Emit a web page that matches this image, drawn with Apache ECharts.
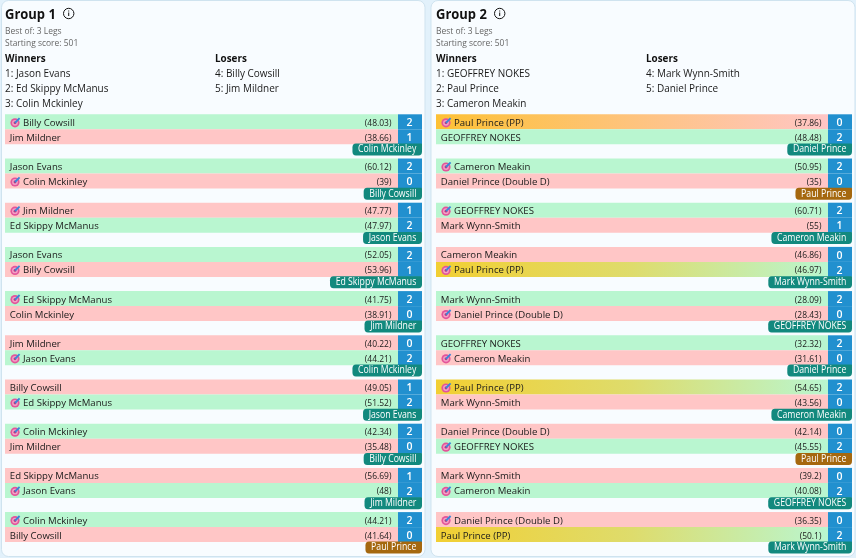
<!DOCTYPE html>
<html><head><meta charset="utf-8">
<style>html,body{margin:0;padding:0;background:#e2f1fb}#c{width:856px;height:558px}</style>
<script src="https://cdn.jsdelivr.net/npm/echarts@6/dist/echarts.min.js"></script>
</head><body><div id="c"></div>
<script>
var FONT = '"Open Sans","Noto Sans",sans-serif';
var groupTitles = ['Group 1', 'Group 2'];
var bestOf = 'Best of: 3 Legs';
var startingScore = 'Starting score: 501';
var g1Winners = ['1: Jason Evans', '2: Ed Skippy McManus', '3: Colin Mckinley'];
var g1Losers = ['4: Billy Cowsill', '5: Jim Mildner'];
var g2Winners = ['1: GEOFFREY NOKES', '2: Paul Prince', '3: Cameron Meakin'];
var g2Losers = ['4: Mark Wynn-Smith', '5: Daniel Prince'];
// each match: [player A, average A, legs A, thrower-first A, player B, average B, legs B, thrower-first B, marker]
var g1Matches = [
 ['Billy Cowsill','48.03',2,1,'Jim Mildner','38.66',1,0,'Colin Mckinley'],
 ['Jason Evans','60.12',2,0,'Colin Mckinley','39',0,1,'Billy Cowsill'],
 ['Jim Mildner','47.77',1,1,'Ed Skippy McManus','47.97',2,0,'Jason Evans'],
 ['Jason Evans','52.05',2,0,'Billy Cowsill','53.96',1,1,'Ed Skippy McManus'],
 ['Ed Skippy McManus','41.75',2,1,'Colin Mckinley','38.91',0,0,'Jim Mildner'],
 ['Jim Mildner','40.22',0,0,'Jason Evans','44.21',2,1,'Colin Mckinley'],
 ['Billy Cowsill','49.05',1,0,'Ed Skippy McManus','51.52',2,1,'Jason Evans'],
 ['Colin Mckinley','42.34',2,1,'Jim Mildner','35.48',0,0,'Billy Cowsill'],
 ['Ed Skippy McManus','56.69',1,0,'Jason Evans','48',2,1,'Jim Mildner'],
 ['Colin Mckinley','44.21',2,1,'Billy Cowsill','41.64',0,0,'Paul Prince']
];
var g2Matches = [
 ['Paul Prince (PP)','37.86',0,1,'GEOFFREY NOKES','48.48',2,0,'Daniel Prince'],
 ['Cameron Meakin','50.95',2,1,'Daniel Prince (Double D)','35',0,0,'Paul Prince'],
 ['GEOFFREY NOKES','60.71',2,1,'Mark Wynn-Smith','55',1,0,'Cameron Meakin'],
 ['Cameron Meakin','46.86',0,0,'Paul Prince (PP)','46.97',2,1,'Mark Wynn-Smith'],
 ['Mark Wynn-Smith','28.09',2,0,'Daniel Prince (Double D)','28.43',0,1,'GEOFFREY NOKES'],
 ['GEOFFREY NOKES','32.32',2,0,'Cameron Meakin','31.61',0,1,'Daniel Prince'],
 ['Paul Prince (PP)','54.65',2,1,'Mark Wynn-Smith','43.56',0,0,'Cameron Meakin'],
 ['Daniel Prince (Double D)','42.14',0,0,'GEOFFREY NOKES','45.55',2,1,'Paul Prince'],
 ['Mark Wynn-Smith','39.2',0,0,'Cameron Meakin','40.08',2,1,'GEOFFREY NOKES'],
 ['Daniel Prince (Double D)','36.35',0,1,'Paul Prince (PP)','50.1',2,0,'Mark Wynn-Smith']
];

var GREEN='#b9f6d0', RED='#ffc6c6', BLUE='#2190cf', TEAL='#12897e', BROWN='#a5680f', INK='#1a1a1a';
var ROW=15/44.2;
function LG(stops){return new echarts.graphic.LinearGradient(0,0,1,0,stops.map(function(c,i){return {offset:i/(stops.length-1),color:c};}));}

function renderMatch(p, api){
  var i=api.value(0), m=(p.seriesIndex===0?g1Matches:g2Matches)[i];
  var L=api.coord([0,i])[0], R=api.coord([1,i])[0], SC=R-24;
  var kids=[];
  function txt(s,x,y,align,color,size,weight,sx){
    kids.push({type:'text',x:x,y:y,scaleX:sx||1,style:{text:s,x:0,y:0,align:align,verticalAlign:'middle',fill:color,font:(weight||'normal')+' '+size+'px '+FONT}});
  }
  [0,1].forEach(function(k){
    var o=k*4, name=m[o], avg=m[o+1], legs=m[o+2], first=m[o+3];
    var won=legs===2, base=won?GREEN:RED;
    var top=api.coord([0,i+k*ROW])[1], bot=api.coord([0,i+(k+1)*ROW])[1];
    var fill=base;
    if(name.indexOf('(PP)')>=0) fill=won?LG(['#f2cf33','#dedc6c',base]):LG(['#fdc135',base]);
    kids.push({type:'rect',shape:{x:L,y:top,width:SC-L,height:bot-top},style:{fill:fill}});
    kids.push({type:'rect',shape:{x:SC,y:top,width:R-SC,height:bot-top},style:{fill:BLUE}});
    var cy=(top+bot)/2, ty=cy+1.2;
    if(first){
      var ix=L+10, iy=cy+1;
      kids.push({type:'circle',shape:{cx:ix,cy:iy,r:4.6},style:{fill:'#e4549a'}});
      kids.push({type:'circle',shape:{cx:ix,cy:iy,r:2.9},style:{fill:'#f2a2c6'}});
      kids.push({type:'circle',shape:{cx:ix,cy:iy,r:1.4},style:{fill:'#b8377e'}});
      kids.push({type:'line',shape:{x1:ix,y1:iy,x2:ix+4.6,y2:iy-4.6},style:{stroke:'#3a86d8',lineWidth:1.9}});
    }
    txt(name,L+(first?18:4.8),ty,'left',INK,9.6);
    txt('('+avg+')',SC-6.6,ty,'right',INK,9.8,'normal',0.865);
    txt(String(legs),R-12.5,ty,'center','#fff',10.5,'600');
  });
  var by=api.coord([0,i+2*ROW])[1]+5.3;
  kids.push({type:'text',x:R,y:by,scaleX:0.87,style:{text:m[8],x:0,y:0,align:'right',verticalAlign:'middle',fill:'#fff',
    font:'normal 10px '+FONT,backgroundColor:m[8]==='Paul Prince'?BROWN:TEAL,padding:[0.5,6.5,0.5,6.5],borderRadius:[4,1,4,4],lineHeight:11}});
  return {type:'group',children:kids};
}

function header(i,x,title,win,lose){
  var els=[];
  function t(s,xx,y,font,color,sx){els.push({type:'text',silent:true,x:xx,y:y,scaleX:sx||1,style:{text:s,x:0,y:0,verticalAlign:'middle',font:font+' '+FONT,fill:color}});}
  t(title,x,15,'bold 15px','#111',0.865);
  var ic=x+63.7;
  els.push({type:'circle',silent:true,shape:{cx:ic,cy:13.5,r:5.2},style:{fill:'none',stroke:'#111',lineWidth:1}});
  els.push({type:'rect',silent:true,shape:{x:ic-.5,y:12.5,width:1,height:3.5},style:{fill:'#111'}});
  els.push({type:'rect',silent:true,shape:{x:ic-.5,y:10.5,width:1,height:1},style:{fill:'#111'}});
  t(bestOf,x,31,'normal 9px','#666',0.94);
  t(startingScore,x,43,'normal 9px','#666',0.94);
  t('Winners',x,58.8,'bold 10.4px','#111',0.95);
  t('Losers',x+210,58.8,'bold 10.4px','#111',0.95);
  win.forEach(function(s,k){t(s,x,73.8+k*15,'normal 10.4px','#1a1a1a',0.96);});
  lose.forEach(function(s,k){t(s,x+210,73.8+k*15,'normal 10.4px','#1a1a1a',0.96);});
  return els;
}
function card(x,w){return {type:'rect',silent:true,shape:{x:x,y:0.5,width:w,height:556,r:7},style:{fill:'#f8fcff',stroke:'#cfe3ef',lineWidth:1}};}

var ids=g1Matches.map(function(_,i){return [i];});
var chart=echarts.init(document.getElementById('c'),null,{renderer:'canvas'});
chart.setOption({
  animation:false,
  backgroundColor:'#e2f1fb',
  graphic:[card(1.5,423.5),card(431,424)].concat(
    header(0,5,groupTitles[0],g1Winners,g1Losers),
    header(1,436,groupTitles[1],g2Winners,g2Losers)),
  grid:[{left:5,width:417,top:114.3,height:442},{left:436,width:416,top:114.3,height:442}],
  xAxis:[{gridIndex:0,type:'value',min:0,max:1,show:false},{gridIndex:1,type:'value',min:0,max:1,show:false}],
  yAxis:[{gridIndex:0,type:'value',min:0,max:10,inverse:true,show:false},{gridIndex:1,type:'value',min:0,max:10,inverse:true,show:false}],
  series:[
    {type:'custom',xAxisIndex:0,yAxisIndex:0,clip:false,encode:{y:0},data:ids,renderItem:renderMatch,silent:true},
    {type:'custom',xAxisIndex:1,yAxisIndex:1,clip:false,encode:{y:0},data:ids,renderItem:renderMatch,silent:true}
  ]
});
</script></body></html>
